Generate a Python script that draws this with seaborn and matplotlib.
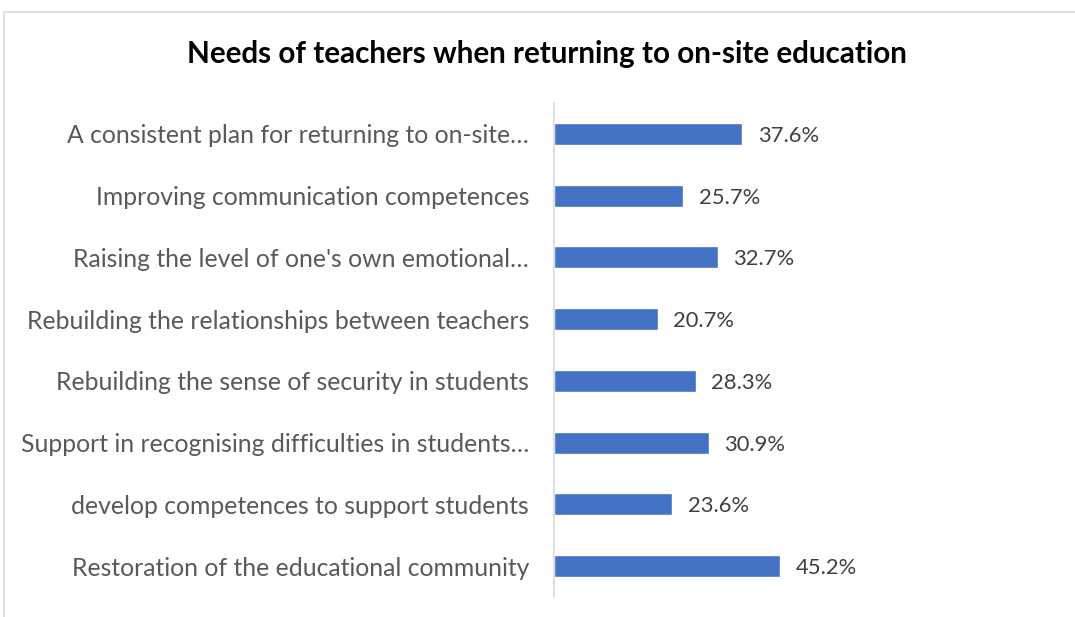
import pandas as pd
import matplotlib.pyplot as plt
import seaborn as sns
from matplotlib.patches import Rectangle

# chart data
needs = [
    "A consistent plan for returning to on-site…",
    "Improving communication competences",
    "Raising the level of one's own emotional…",
    "Rebuilding the relationships between teachers",
    "Rebuilding the sense of security in students",
    "Support in recognising difficulties in students…",
    "develop competences to support students",
    "Restoration of the educational community",
]
shares = [37.6, 25.7, 32.7, 20.7, 28.3, 30.9, 23.6, 45.2]

df = pd.DataFrame({"need": needs, "share": shares})

sns.set_theme(style="white")
plt.rcParams['font.family'] = ['Lato', 'DejaVu Sans']

fig = plt.figure(figsize=(10.75, 6.17), dpi=100)
ax = fig.add_axes([554 / 1075, 1 - 597 / 617, 500 / 1075, 494 / 617])

sns.barplot(data=df, x="share", y="need", color="#4472C4", width=0.36,
            saturation=1, ax=ax)

ax.set_xlim(0, 100)
ax.set_ylim(len(needs) - 0.5, -0.5)
ax.set_xlabel("")
ax.set_ylabel("")
ax.set_xticks([])
ax.tick_params(axis='y', length=0, pad=18, labelsize=17.8, labelcolor="#595959")
for lbl in ax.get_yticklabels():
    lbl.set_verticalalignment("center_baseline")

for s in ["top", "right", "bottom"]:
    ax.spines[s].set_visible(False)
ax.spines["left"].set_color("#d9d9d9")
ax.spines["left"].set_linewidth(1.2)

for i, v in enumerate(shares):
    ax.text(v + 3.2, i, f"{v:.1f}%", va="center_baseline", ha="left",
            fontsize=15.8, color="#404040")

fig.text(547 / 1075, 1 - 54 / 617, "Needs of teachers when returning to on-site education",
         ha="center", va="center", fontsize=21.3, fontweight="bold", color="black")

# chart frame
fig.patches.append(Rectangle((4 / 1075, -0.1), 1.2, 1 - 12 / 617 + 0.1,
                             transform=fig.transFigure, fill=False,
                             edgecolor="#d9d9d9", linewidth=1.2))

fig.savefig("out.png", dpi=100)
